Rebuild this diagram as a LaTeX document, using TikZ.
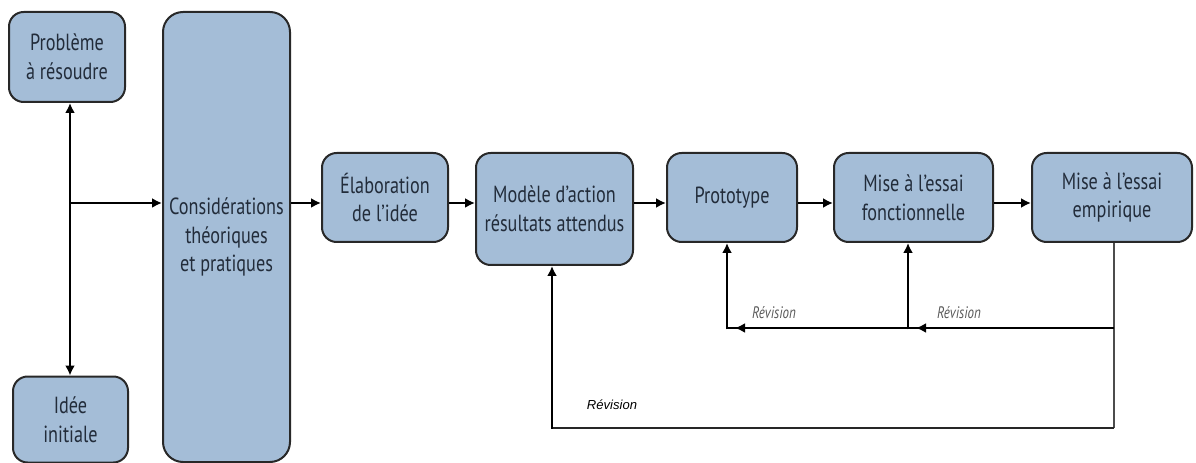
\documentclass[tikz,border=0pt]{standalone}
\usepackage{fontspec}
\setmainfont{PT Sans}[FakeStretch=0.78]
\newfontfamily\arialfont{Liberation Sans}
\usetikzlibrary{arrows.meta}
\definecolor{boxblue}{RGB}{164,189,215}
\definecolor{boxtxt}{RGB}{34,44,58}
\definecolor{bordc}{RGB}{40,40,40}
\begin{document}
\begin{tikzpicture}[x=0.75pt,y=-0.75pt,
  box/.style={draw=bordc, line width=1.5pt, fill=boxblue, rounded corners=11pt,
    align=center, text=boxtxt, inner sep=0pt, font=\fontsize{17.5}{21.5}\selectfont},
  sz/.style 2 args={minimum width=#1*0.75pt, minimum height=#2*0.75pt},
  arr/.style={line width=1.9pt, draw=black, -{Latex[length=7.5pt,width=7.5pt]}},
  dbl/.style={line width=1.9pt, draw=black, {Latex[length=7.5pt,width=7.5pt]}-{Latex[length=7.5pt,width=7.5pt]}},
  thinl/.style={line width=1.1pt, draw=black!70},
  botl/.style={line width=1.7pt, draw=black!85},
  revl/.style={line width=2.1pt, draw=black},
  revA/.style={text=black!65, font=\fontsize{12.5}{14}\selectfont\itshape, inner sep=0pt},
  revB/.style={text=black, font=\arialfont\fontsize{9.8}{12}\selectfont\itshape, inner sep=0pt}]
\useasboundingbox (0,0) rectangle (1196,463);
% boxes
\node[box, sz={116}{90}] (prob) at (67,57) {Problème\\à résoudre};
\node[box, sz={115}{86}] (idee) at (70.5,419.5) {Idée\\initiale};
\node[box, sz={127}{450}, rounded corners=15pt] (cons) at (226.5,237) {Considérations\\théoriques\\et pratiques};
\node[box, sz={126}{89}] (elab) at (385,197.5) {Élaboration\\de l’idée};
\node[box, sz={157}{112}] (mod) at (554.5,209) {Modèle d’action\\résultats attendus};
\node[box, sz={130}{89}] (proto) at (732,197.5) {Prototype};
\node[box, sz={159}{89}] (fonct) at (913.5,197.5) {Mise à l’essai\\fonctionnelle};
\node[box, sz={160}{89}] (emp) at (1112,197.5) {Mise à l’essai\\empirique};
% helper coordinates
\coordinate (lx) at (70,203);
\coordinate (row) at (0,203);
\coordinate (rv) at (0,328);
\coordinate (bt) at (0,428);
\coordinate (ex) at (1114,0);
\coordinate (px) at (727,0);
\coordinate (fx) at (908,0);
\coordinate (mx) at (552,0);
% left part
\draw[dbl] (prob.south -| lx) -- (idee.north -| lx);
\draw[arr] (lx) -- (cons.west |- row);
% main chain
\draw[arr] (cons.east |- row) -- (elab.west |- row);
\draw[arr] (elab.east |- row) -- (mod.west |- row);
\draw[arr] (mod.east |- row) -- (proto.west |- row);
\draw[arr] (proto.east |- row) -- (fonct.west |- row);
\draw[arr] (fonct.east |- row) -- (emp.west |- row);
% revision loops
\draw[thinl] (emp.south -| ex) -- (ex |- bt);
\draw[revl] (ex |- rv) -- (px |- rv);
\draw[arr, revl] ([xshift=20pt]fx |- rv) -- ([xshift=6pt]fx |- rv);
\draw[arr, revl] ([xshift=20pt]px |- rv) -- ([xshift=6pt]px |- rv);
\draw[arr] ([yshift=-1pt]fx |- rv) -- (fonct.south -| fx);
\draw[arr] ([yshift=-1pt]px |- rv) -- (proto.south -| px);
\draw[botl] (ex |- bt) -- (mx |- bt);
\draw[arr, line width=1.7pt] ([yshift=-0.7pt]mx |- bt) -- (mod.south -| mx);
% labels
\node[revA] (r1) at (774,313) {Révision};
\node[revA] (r2) at (959,313) {Révision};
\node[revB] (r3) at (612,405) {Révision};
\end{tikzpicture}
\end{document}
